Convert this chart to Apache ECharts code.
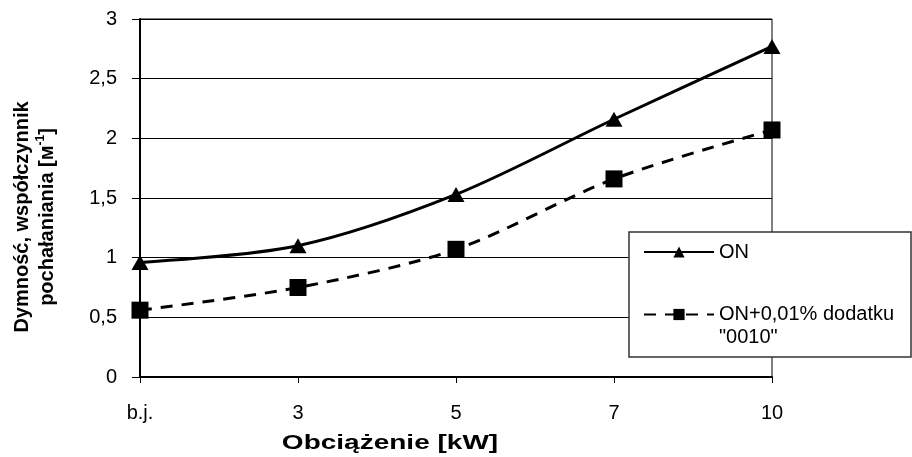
<!DOCTYPE html>
<html>
<head>
<meta charset="utf-8">
<script src="https://cdn.jsdelivr.net/npm/echarts@6/dist/echarts.min.js"></script>
<style>
  html, body { margin: 0; padding: 0; background: #fff; }
  #chart { width: 912px; height: 457px; }
</style>
</head>
<body>
<div id="chart"></div>
<script>
// dane
var categories = ['b.j.', '3', '5', '7', '10'];
var seriesNames = ['ON', 'ON+0,01% dodatku\n"0010"'];
var onValues = [0.96, 1.10, 1.53, 2.16, 2.77];
var onAddValues = [0.56, 0.75, 1.07, 1.66, 2.07];

var font = 'Liberation Sans, Arial, sans-serif';
var chart = echarts.init(document.getElementById('chart'));

var option = {
  animation: false,
  backgroundColor: '#fff',
  textStyle: { fontFamily: font, color: '#000' },
  grid: {
    left: 140, right: 140, top: 19, bottom: 80,
    show: true, borderColor: '#000', borderWidth: 1
  },
  xAxis: {
    type: 'category',
    data: categories,
    boundaryGap: false,
    axisLine: { lineStyle: { color: '#000', width: 2 } },
    axisTick: { alignWithLabel: true, length: 6, lineStyle: { color: '#000' } },
    axisLabel: { color: '#000', fontSize: 20, fontFamily: font, margin: 26 },
    splitLine: { show: false }
  },
  yAxis: {
    type: 'value',
    min: 0, max: 3, interval: 0.5,
    axisLine: { show: true, lineStyle: { color: '#000', width: 2 } },
    axisTick: { show: true, length: 8, lineStyle: { color: '#000' } },
    axisLabel: {
      color: '#000', fontSize: 20, fontFamily: font, margin: 23,
      formatter: function (v) { return String(v).replace('.', ','); }
    },
    splitLine: { lineStyle: { color: '#000', width: 1 } }
  },
  legend: [
    {
      data: [seriesNames[0]],
      left: 638, top: 237,
      itemWidth: 70, itemHeight: 14,
      textStyle: { fontSize: 20, fontFamily: font, color: '#000' },
      z: 30
    },
    {
      data: [seriesNames[1]],
      left: 638, top: 275,
      itemWidth: 70, itemHeight: 14,
      // pusta pierwsza linia, żeby ikona stała na wysokości pierwszego wiersza
      formatter: function (name) { return '\n' + name; },
      textStyle: { fontSize: 20, fontFamily: font, color: '#000', lineHeight: 23 },
      z: 30
    }
  ],
  graphic: [
    {
      type: 'rect', z: 20,
      shape: { x: 629, y: 232, width: 282, height: 125 },
      style: { fill: '#fff', stroke: '#333', lineWidth: 1.5 }
    },
    {
      type: 'text', z: 20,
      x: 35, y: 217, rotation: Math.PI / 2,
      style: {
        text: '{b|Dymność, współczynnik}\n{b|pochałaniania [м}{s|-1}{b|]}',
        align: 'center', verticalAlign: 'middle',
        rich: {
          b: { fontFamily: font, fontWeight: 'bold', fontSize: 20, lineHeight: 25, fill: '#000' },
          s: { fontFamily: font, fontWeight: 'bold', fontSize: 12, lineHeight: 25, fill: '#000', verticalAlign: 'top', padding: [0, 0, 8, 0] }
        }
      }
    },
    {
      type: 'text', z: 20,
      x: 390, y: 443, scaleX: 1.4,
      style: {
        text: 'Obciążenie [kW]',
        align: 'center', verticalAlign: 'middle',
        fontFamily: font, fontWeight: 'bold', fontSize: 20, fill: '#000'
      }
    }
  ],
  series: [
    {
      name: seriesNames[0],
      type: 'line',
      data: onValues,
      smooth: 0.3,
      symbol: 'triangle',
      symbolSize: [17, 15],
      lineStyle: { color: '#000', width: 3 },
      itemStyle: { color: '#000' }
    },
    {
      name: seriesNames[1],
      type: 'line',
      data: onAddValues,
      smooth: 0.3,
      symbol: 'rect',
      symbolSize: 17,
      lineStyle: { color: '#000', width: 3, type: [12, 9] },
      itemStyle: { color: '#000' }
    }
  ]
};

chart.setOption(option);
</script>
</body>
</html>
